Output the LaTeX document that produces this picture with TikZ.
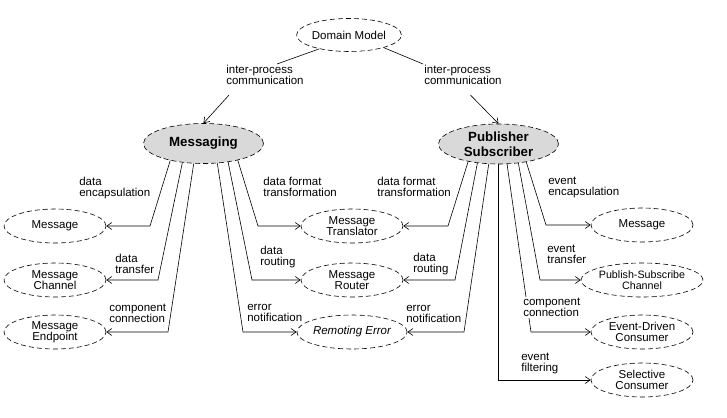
\documentclass[tikz,border=0pt]{standalone}
\usepackage{fontspec}
\setmainfont{Liberation Sans}
\usetikzlibrary{shapes.geometric,arrows.meta,calc}

\begin{document}
\begin{tikzpicture}[x=1pt, y=-1pt, line width=0.6pt, font=\fontsize{11.5}{11}\selectfont,
	patnode/.style={ellipse, draw, dash pattern=on 5pt off 3pt, minimum width=102pt, minimum height=34pt, inner sep=0pt, align=center},
	corenode/.style={patnode, fill=black!15, minimum width=120pt, minimum height=40pt, font=\fontsize{13.3}{15}\selectfont\bfseries},
	note/.style={align=left, anchor=north west, inner sep=1pt},
	arr/.style={-{Straight Barb[length=5pt,width=7pt]}}]
		\useasboundingbox (0,0) rectangle (727,417);
		\node[patnode, minimum width=101pt, minimum height=33pt] (dom) at (349,35) {Domain Model};
		\node[corenode] (msg) at (203.5,143.5) {Messaging};
		\node[corenode] (ps) at (498.5,144) {Publisher\\Subscriber};

		\node[patnode] (lmsg) at (55,226) {Message};
		\node[patnode] (lchan) at (55,280) {Message\\Channel};
		\node[patnode] (lend) at (55,332) {Message\\Endpoint};
		\node[patnode] (trans) at (352,226) {Message\\Translator};
		\node[patnode] (rout) at (352,280) {Message\\Router};
		\node[patnode] (rerr) at (352,332) {\itshape Remoting Error};
		\node[patnode] (rmsg) at (642,225) {Message};
		\node[patnode, font=\fontsize{10.7}{11}\selectfont] (pschan) at (642,280) {Publish-Subscribe\\Channel};
		\node[patnode] (edc) at (642,332) {Event-Driven\\Consumer};
		\node[patnode] (sel) at (642,380) {Selective\\Consumer};

		\node[note] (ipcL) at (225,64) {inter-process\\communication};
		\node[note] (ipcR) at (423,64) {inter-process\\communication};
		\draw (dom.205) -- ([xshift=12pt]ipcL.north);
		\draw[arr] ($(ipcL.south west)+(4,9)$) -- (msg.north);
		\draw (dom.340) -- (ipcR.north west);
		\draw[arr] ($(ipcR.south)+(7.5,9)$) -- (ps.north);

		\draw[arr] (msg.207) -- (150,226) -- (lmsg);
		\draw[arr] (msg.222) -- (158,280) -- (lchan);
		\draw[arr] (msg.244) -- (168,332) -- (lend);
		\draw[arr] (msg.334) -- (258,226) -- (trans);
		\draw[arr] (msg.323) -- (252,280) -- (rout);
		\draw[arr] (msg.305) -- (243,332) -- (rerr);

		\draw[arr] (ps.210) -- (448,226) -- (trans);
		\draw[arr] (ps.222) -- (455,280) -- (rout);
		\draw[arr] (ps.244) -- (464,332) -- (rerr);
		\draw[arr] (ps.327) -- (546,225) -- (rmsg);
		\draw[arr] (ps.316) -- (540,280) -- (pschan);
		\draw[arr] (ps.293) -- (531,332) -- (edc);
		\draw[arr] (ps.south) |- (sel);

		\node[note] (encL) at (78,176) {data\\encapsulation};
		\node[note] (fmtL) at (262,176) {data format\\transformation};
		\node[note] (fmtR) at (376,176) {data format\\transformation};
		\node[note] (encR) at (547,176) {event\\encapsulation};
		\node[note] (trL) at (114,253) {data\\transfer};
		\node[note] (conL) at (108,303) {component\\connection};
		\node[note] (routL) at (259,245) {data\\routing};
		\node[note] (errL) at (246,303) {error\\notification};
		\node[note] (routR) at (412,252) {data\\routing};
		\node[note] (errR) at (405,304) {error\\notification};
		\node[note] (trR) at (546,244) {event\\transfer};
		\node[note, fill=white] (conR) at (522,297) {component\\connection};
		\node[note] (filR) at (520,352) {event\\filtering};
	\end{tikzpicture}
\end{document}
